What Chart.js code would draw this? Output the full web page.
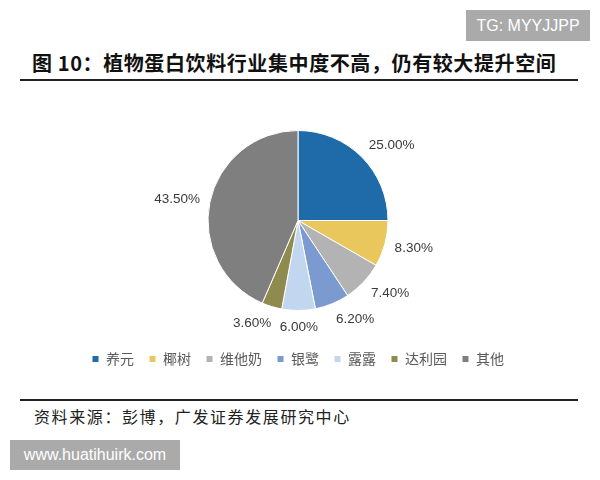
<!DOCTYPE html>
<html lang="zh">
  <head>
    <meta charset="UTF-8" />
    <title>植物蛋白饮料行业集中度</title>
    <style>
      body { margin: 0; width: 600px; height: 480px; background: #fff; position: relative; overflow: hidden; }
      .mark { position: absolute; background: #aaaaaa; color: #fff; font-family: "Liberation Sans", Arial, sans-serif; font-size: 16px; text-align: center; }
      #tg { left: 466px; top: 10px; width: 124px; height: 31px; line-height: 31px; }
      #www { left: 10px; top: 440px; width: 170px; height: 30px; line-height: 30px; }
      #title { position: absolute; left: 32px; top: 50px; font-family: "Noto Sans CJK SC", sans-serif; font-weight: bold; font-size: 20px; letter-spacing: 0.6px; color: #111; white-space: nowrap; line-height: 26px; }
      .rule { position: absolute; left: 20px; width: 558px; background: #222; }
      #rule1 { top: 79px; height: 2px; }
      #rule2 { top: 399px; height: 2px; }
      #source { position: absolute; left: 34px; top: 404px; font-family: "Noto Sans CJK SC", sans-serif; font-size: 16px; color: #222; white-space: nowrap; line-height: 24px; letter-spacing: 1.6px; }
      #wrap { position: absolute; left: 0; top: 100px; width: 600px; height: 276px; }
    </style>
  </head>
  <body>
    <div class="mark" id="tg">TG: MYYJJPP</div>
    <div id="title">图 10：植物蛋白饮料行业集中度不高，仍有较大提升空间</div>
    <div class="rule" id="rule1"></div>
    <div id="wrap"><canvas id="myChart"></canvas></div>
    <div class="rule" id="rule2"></div>
    <div id="source">资料来源：彭博，广发证券发展研究中心</div>
    <div class="mark" id="www">www.huatihuirk.com</div>

    <script src="https://cdn.jsdelivr.net/npm/chart.js"></script>
    <script>
      const brands = ["养元", "椰树", "维他奶", "银鹭", "露露", "达利园", "其他"];
      const shares = [25.0, 8.3, 7.4, 6.2, 6.0, 3.6, 43.5];
      const colors = ["#1f6aa8", "#e9c75c", "#b3b3b3", "#7b9bd0", "#c3d6ef", "#8f8a4e", "#7f7f7f"];

      // percentage labels just outside each slice
      const outsideLabels = {
        id: "outsideLabels",
        afterDatasetsDraw(chart) {
          const c = chart.ctx;
          c.save();
          c.font = "13.5px 'Liberation Sans', Arial, sans-serif";
          c.fillStyle = "#3a3a3a";
          c.textAlign = "center";
          c.textBaseline = "middle";
          chart.getDatasetMeta(0).data.forEach(function(arc, i) {
            const p = arc.getProps(["x", "y", "startAngle", "endAngle", "outerRadius"], true);
            const mid = (p.startAngle + p.endAngle) / 2;
            const r = p.outerRadius + 10;
            const txt = shares[i].toFixed(2) + "%";
            const w = c.measureText(txt).width;
            const h = 14;
            const k = Math.max(-1, Math.min(1, Math.cos(mid) * 3));
            const x = p.x + r * Math.cos(mid) + (w / 2) * k;
            const y = p.y + r * Math.sin(mid) + (h / 2) * Math.sin(mid);
            c.fillText(txt, x, y);
          });
          c.restore();
        }
      };

      const ctx = document.getElementById("myChart");
      const myChart = new Chart(ctx, {
        type: "pie",
        data: {
          labels: brands,
          datasets: [
            {
              data: shares,
              backgroundColor: colors,
              borderColor: "#ffffff",
              borderWidth: 1,
            },
          ],
        },
        options: {
          responsive: true,
          maintainAspectRatio: false,
          animation: false,
          radius: 90,
          layout: { padding: { right: 4, top: 4 } },
          plugins: {
            tooltip: { enabled: false },
            legend: {
              position: "bottom",
              labels: {
                boxWidth: 7,
                boxHeight: 7,
                padding: 15,
                color: "#595959",
                font: { size: 14, family: "'Noto Sans CJK SC', sans-serif" },
              },
            },
          },
        },
        plugins: [outsideLabels],
      });
    </script>
  </body>
</html>
